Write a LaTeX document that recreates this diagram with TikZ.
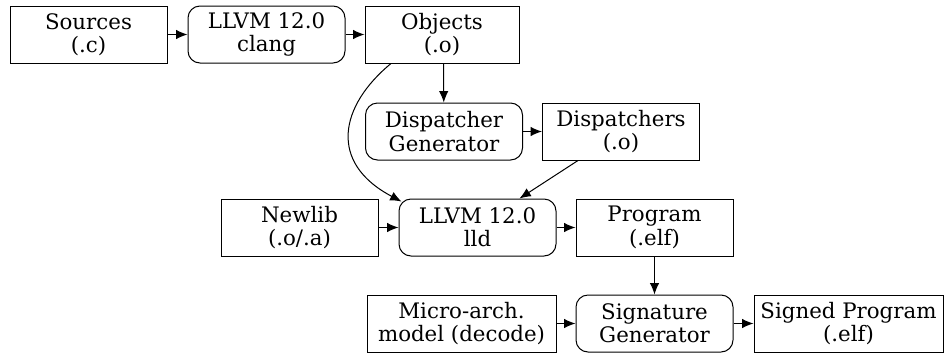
\documentclass[tikz,border=0pt]{standalone}
\usepackage{fontspec}
\setmainfont{DejaVu Serif}
\usetikzlibrary{calc,arrows.meta}
\tikzset{
	box/.style={draw, line width=0.75pt, align=center, minimum width=117.75pt, minimum height=42.75pt, inner sep=1pt, font=\fontsize{16}{17.5}\selectfont},
	tool/.style={box, rounded corners=9pt},
	wide/.style={minimum width=141.75pt},
	flow/.style={line width=0.75pt, -{Latex[length=8.5pt,width=7pt]}}
}

\begin{document}
\begin{tikzpicture}[x=0.75pt, y=-0.75pt]
			%%%%% START %%%%%
			\useasboundingbox (0, 0) rectangle (945, 354);
			
			\node[box] (sources) at (88.5, 34.5) {Sources\\(.c)};
			\node[tool] (clang) at (266.5, 34.5) {LLVM 12.0\\clang};
			\node[box, minimum width=115.5pt] (objects) at (442, 34.5) {Objects\\(.o)};
			
			\node[tool] (dispgen) at (444, 131.5) {Dispatcher\\Generator};
			\node[box] (dispatchers) at (621, 131.5) {Dispatchers\\(.o)};
			
			\node[box] (newlib) at (299.5, 227.5) {Newlib\\(.o/.a)};
			\node[tool] (lld) at (477.5, 227.5) {LLVM 12.0\\lld};
			\node[box] (program) at (654.5, 227.5) {Program\\(.elf)};
			
			\node[box, wide] (microarch) at (461.5, 323.5) {Micro-arch.\\model (decode)};
			\node[tool] (siggen) at (654.5, 323.5) {Signature\\Generator};
			\node[box, wide] (signed) at (848.5, 323.5) {Signed Program\\(.elf)};
			
			% compile
			\draw[flow] (sources) -- (clang);
			\draw[flow] (clang) -- (objects);
			\draw[flow] ($(objects.south)+(1.5, 0)$) -- (dispgen);
			\draw[flow] (dispgen) -- (dispatchers);
			
			% link
			\draw[flow] ($(objects.south)+(-51, 0)$) .. controls +(-51, 42) and +(-74, -39) .. ($(lld.north west)+(3, 3)$);
			\draw[flow] ($(dispatchers.south)+(-43, 0)$) -- ($(lld.north)+(42, 0)$);
			\draw[flow] (newlib) -- (lld);
			\draw[flow] (lld) -- (program);
			
			% sign
			\draw[flow] (program) -- (siggen);
			\draw[flow] (microarch) -- (siggen);
			\draw[flow] (siggen) -- (signed);
			
			%%%%% END %%%%%
		\end{tikzpicture}
\end{document}
